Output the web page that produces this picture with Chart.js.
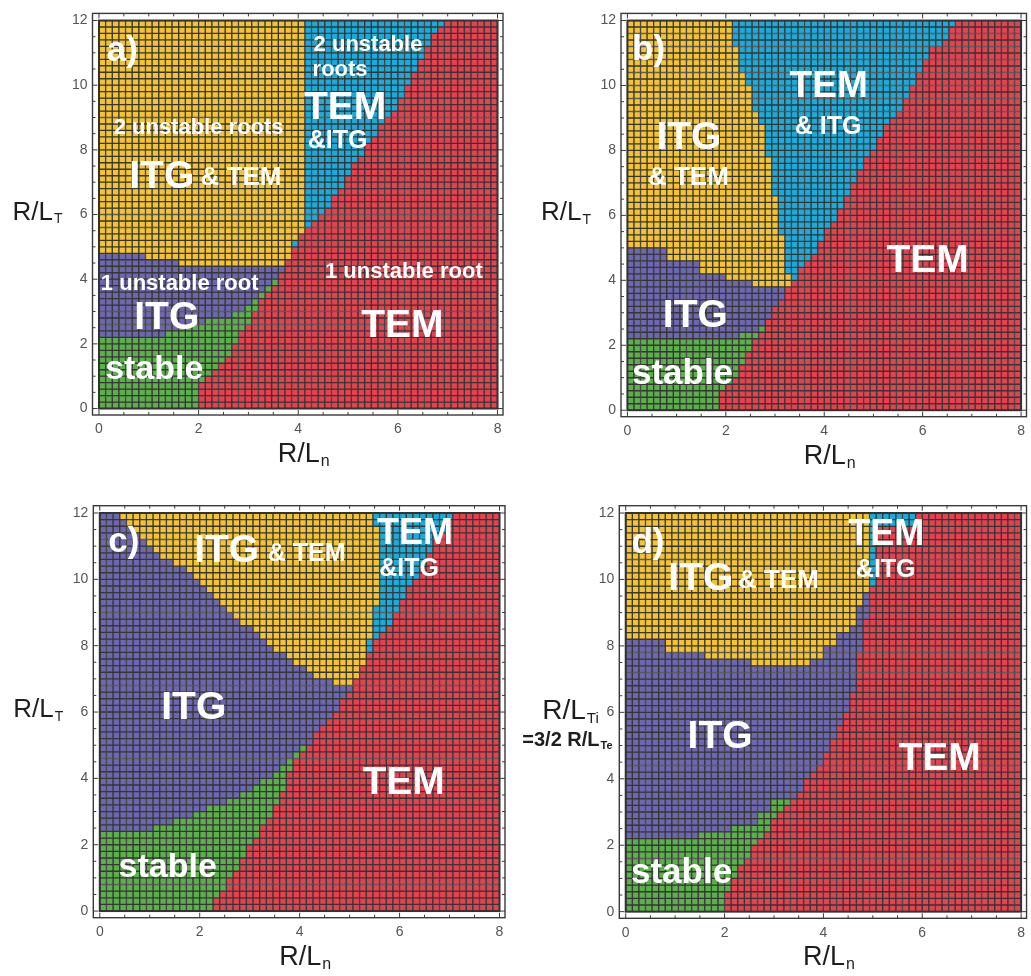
<!DOCTYPE html>
<html>
<head>
<meta charset="utf-8">
<script src="https://cdn.jsdelivr.net/npm/chart.js"></script>
<style>
  html, body { margin: 0; padding: 0; background: #fff; }
  #wrap { position: relative; width: 1031px; height: 976px; overflow: hidden; }
  canvas { position: absolute; }
</style>
</head>
<body>
<div id="wrap">
  <canvas id="pa" width="515" height="488" style="left:0;top:0"></canvas>
  <canvas id="pb" width="516" height="488" style="left:515px;top:0"></canvas>
  <canvas id="pc" width="515" height="488" style="left:0;top:488px"></canvas>
  <canvas id="pd" width="516" height="488" style="left:515px;top:488px"></canvas>
</div>
<script>
// scan grid (60 x 60 cells over R/Ln 0..8, R/LT 0..12)
const nCols = 60, nRows = 60;
const xMax = 8, yMax = 12;
const xTicks = [0, 2, 4, 6, 8];
const yTicks = [0, 2, 4, 6, 8, 10, 12];
const regions = ['stable', 'ITG', 'ITG & TEM', 'TEM & ITG', 'TEM'];
const regionColors = ['#5bb04b', '#6c67ae', '#f4c330', '#1aabda', '#e6414f'];

// region boundaries
// RedEdge / CyanEdge: [R/LT, R/Ln]  -> TEM right of red edge, TEM&ITG between cyan and red edge
// ItgTop / StableTop: [R/Ln, R/LT]  -> ITG&TEM above ItgTop, stable below StableTop
const aRedEdge = [[0, 2.01], [0.65, 2.01], [1.2, 2.39], [1.75, 2.63], [2.27, 2.83], [2.77, 3.06], [3.27, 3.23], [3.78, 3.46], [4.0, 3.6], [4.4, 3.7], [4.8, 3.9], [5.4, 4.07], [6.3, 4.64], [7.3, 5.04], [8.3, 5.44], [9.3, 5.98], [10.3, 6.31], [11.0, 6.5], [11.4, 6.65], [11.75, 6.9], [12.2, 6.95]];
const aCyanEdge = [[4.8, 3.88], [5.0, 3.88], [5.4, 4.05], [5.6, 4.1], [12.2, 4.1]];
const aItgTop = [[0, 4.8], [0.95, 4.8], [0.95, 4.6], [1.6, 4.6], [1.6, 4.4], [8, 4.4]];
const aStableTop = [[0, 2.2], [1.35, 2.2], [1.35, 2.4], [1.9, 2.6], [2.4, 2.8], [3.0, 3.0], [3.0, 3.2], [3.25, 3.6], [3.4, 3.8], [3.6, 4.0], [8, 4.0]];

const bRedEdge = [[0, 1.9], [0.6, 1.9], [0.8, 2.14], [2.0, 2.52], [2.4, 2.76], [3.0, 2.96], [3.6, 3.19], [4.0, 3.36], [4.6, 3.7], [5.1, 3.9], [6.5, 4.44], [7.8, 4.9], [8.75, 5.24], [9.05, 5.45], [9.55, 5.65], [10.05, 5.8], [10.55, 5.98], [11.06, 6.15], [11.36, 6.4], [11.77, 6.6], [12.2, 6.65]];
const bCyanEdge = [[3.9, 3.3], [4.8, 3.2], [5.7, 3.1], [7.5, 2.9], [8.5, 2.8], [9.0, 2.65], [10.0, 2.45], [10.8, 2.25], [12.2, 2.02]];
const bItgTop = [[0, 4.97], [0.85, 4.97], [0.85, 4.57], [1.48, 4.57], [1.48, 4.2], [2.0, 4.2], [2.0, 4.0], [2.55, 4.0], [2.55, 3.8], [8, 3.8]];
const bStableTop = [[0, 2.2], [1.9, 2.2], [2.5, 2.4], [2.8, 2.7], [3.2, 3.2], [8, 3.2]];

const cRedEdge = [[0, 2.28], [0.2, 2.28], [0.45, 2.41], [1.16, 2.68], [1.77, 2.95], [2.17, 3.08], [2.77, 3.35], [3.38, 3.61], [3.88, 3.75], [4.49, 3.88], [4.9, 4.15], [5.5, 4.42], [6.0, 4.69], [6.5, 4.95], [6.8, 5.09], [7.3, 5.22], [7.9, 5.42], [8.4, 5.62], [8.8, 5.89], [9.74, 6.16], [10.14, 6.36], [10.95, 6.63], [11.55, 6.89], [11.96, 7.16], [12.2, 7.2]];
const cCyanEdge = [[7.2, 5.22], [8.0, 5.35], [8.8, 5.49], [9.7, 5.57], [12.2, 5.52]];
const cItgTop = [[0, 12.5], [0.3, 12.5], [0.3, 12.0], [0.67, 11.45], [1.2, 10.75], [1.74, 10.24], [2.14, 9.74], [2.68, 8.93], [3.21, 8.22], [3.75, 7.62], [4.28, 7.11], [4.69, 6.86], [5.05, 6.8], [8, 6.8]];
const cStableTop = [[0, 2.4], [0.8, 2.4], [1.4, 2.7], [2.0, 3.0], [2.8, 3.5], [3.2, 3.9], [3.6, 4.3], [4.2, 5.1], [4.8, 5.9], [5.05, 6.6], [8, 6.6]];

const dRedEdge = [[0, 2.01], [0.55, 2.01], [1.26, 2.29], [2.06, 2.66], [2.67, 2.96], [3.27, 3.36], [3.88, 3.63], [4.78, 4.09], [5.79, 4.43], [6.6, 4.6], [7.5, 4.7], [8.7, 4.85], [9.7, 4.95], [9.8, 5.08], [11.6, 5.08], [11.6, 5.9], [12.2, 5.9]];
const dCyanEdge = [[9.8, 4.9], [12.2, 4.9]];
const dItgTop = [[0, 8.2], [0.82, 8.2], [0.82, 7.8], [1.56, 7.8], [1.56, 7.65], [2.49, 7.65], [2.49, 7.45], [3.69, 7.45], [3.69, 7.65], [4.03, 7.65], [4.03, 8.0], [4.29, 8.0], [4.29, 8.3], [4.49, 8.3], [4.49, 8.6], [4.66, 8.6], [4.66, 9.2], [4.8, 9.2], [4.8, 9.6], [8, 9.6]];
const dStableTop = [[0, 2.2], [1.49, 2.2], [1.49, 2.42], [2.09, 2.42], [2.09, 2.62], [2.69, 2.62], [2.69, 3.02], [2.96, 3.02], [2.96, 3.37], [8, 3.37]];

const FONT = "'Liberation Sans', Arial, Helvetica, sans-serif";

// text annotations: [text, R/Ln centre, R/LT baseline, font px]
const aLabels = [
  ['a)', 0.47, 10.75, 35], ['2 unstable', 5.40, 11.05, 22], ['roots', 4.84, 10.29, 22],
  ['TEM', 4.94, 8.96, 39], ['&ITG', 4.79, 8.05, 25], ['2 unstable roots', 2.0, 8.48, 22],
  ['ITG', 1.26, 6.81, 39], ['& TEM', 2.85, 6.9, 26], ['1 unstable root', 1.62, 3.67, 22],
  ['ITG', 1.36, 2.46, 39], ['stable', 1.11, 0.92, 34], ['1 unstable root', 6.12, 4.03, 22],
  ['TEM', 6.09, 2.22, 39]
];
const bLabels = [
  ['b)', 0.43, 10.77, 35], ['TEM', 4.09, 9.65, 37], ['& ITG', 4.08, 8.5, 25],
  ['ITG', 1.25, 8.05, 39], ['& TEM', 1.24, 6.93, 26], ['TEM', 6.1, 4.27, 39],
  ['ITG', 1.38, 2.55, 39], ['stable', 1.12, 0.8, 35]
];
const cLabels = [
  ['c)', 0.48, 10.82, 35], ['ITG', 2.54, 10.52, 39], ['& TEM', 4.14, 10.55, 25],
  ['TEM', 6.31, 11.07, 36], ['&ITG', 6.19, 10.1, 25], ['ITG', 1.88, 5.78, 39],
  ['TEM', 6.08, 3.52, 39], ['stable', 1.36, 1.02, 34]
];
const dLabels = [
  ['d)', 0.45, 10.8, 35], ['ITG', 1.52, 9.69, 39], ['& TEM', 3.09, 9.75, 26],
  ['TEM', 5.27, 11.05, 36], ['&ITG', 5.26, 10.08, 25], ['ITG', 1.91, 4.93, 39],
  ['TEM', 6.35, 4.27, 39], ['stable', 1.13, 0.87, 35]
];

const ltTitle = [{ main: 'R/L', sub: 'T', dx: -80, dy: 5, size: 26, subSize: 14, bold: false }];
const ltiTitle = [
  { main: 'R/L', sub: 'Ti', dx: -77, dy: 7, size: 28, subSize: 15, bold: false },
  { main: '=3/2 R/L', sub: 'Te', dx: -97, dy: 34, size: 20, subSize: 11, bold: true }
];

// piecewise-linear lookup along a boundary (duplicate keys = steps)
function edgeAt(pts, t) {
  if (t < pts[0][0]) return null;
  for (let i = 0; i < pts.length - 1; i++) {
    const t0 = pts[i][0], t1 = pts[i + 1][0];
    if (t >= t0 && t < t1) return pts[i][1] + (pts[i + 1][1] - pts[i][1]) * (t - t0) / (t1 - t0);
  }
  return pts[pts.length - 1][1];
}

function classify(p, x, y) {
  if (x > edgeAt(p.red, y)) return 4;
  const c = edgeAt(p.cyan, y);
  if (c !== null && x > c) return 3;
  if (y > edgeAt(p.itgTop, x)) return 2;
  if (y < edgeAt(p.stableTop, x)) return 0;
  return 1;
}

function buildCells(p) {
  const dx = xMax / nCols, dy = yMax / nRows;
  const sets = regions.map(() => []);
  for (let i = 0; i < nCols; i++) {
    for (let j = 0; j < nRows; j++) {
      const x = (i + 0.5) * dx, y = (j + 0.5) * dy;
      sets[classify(p, x, y)].push({ x: x, y: [j * dy, (j + 1) * dy] });
    }
  }
  return sets;
}

function drawTitle(ctx, t, x, baseline, centered) {
  const f1 = (t.bold ? 'bold ' : '') + t.size + 'px ' + FONT;
  const f2 = (t.bold ? 'bold ' : '') + t.subSize + 'px ' + FONT;
  ctx.font = f1;
  const w1 = ctx.measureText(t.main).width;
  ctx.font = f2;
  const w2 = ctx.measureText(t.sub).width;
  let left = centered ? x - (w1 + w2) / 2 : x;
  ctx.textAlign = 'left';
  ctx.font = f1;
  ctx.fillText(t.main, left, baseline);
  ctx.font = f2;
  ctx.fillText(t.sub, left + w1 + 1, baseline + t.subSize * 0.25);
}

function decor(p) {
  return {
    id: 'decor',
    afterDraw(chart) {
      const { ctx, chartArea: a } = chart;
      const x = chart.scales.x, y = chart.scales.y;
      ctx.save();
      // outline of the cell block
      const gx0 = x.getPixelForValue(0), gx1 = x.getPixelForValue(xMax);
      const gy0 = y.getPixelForValue(0), gy1 = y.getPixelForValue(yMax);
      ctx.strokeStyle = '#333';
      ctx.lineWidth = 2;
      ctx.strokeRect(gx0, gy1, gx1 - gx0, gy0 - gy1);
      // frame with inward ticks
      ctx.strokeStyle = '#3a3a3a';
      ctx.lineWidth = 1.4;
      ctx.strokeRect(a.left, a.top, a.width, a.height);
      ctx.lineWidth = 1;
      ctx.beginPath();
      for (let k = 0; k <= xMax * 2; k++) {
        const v = k / 2, px = x.getPixelForValue(v), len = k % 4 === 0 ? 5 : 3;
        ctx.moveTo(px, a.bottom); ctx.lineTo(px, a.bottom - len);
        ctx.moveTo(px, a.top); ctx.lineTo(px, a.top + len);
      }
      for (let k = 0; k <= yMax * 2; k++) {
        const v = k / 2, py = y.getPixelForValue(v), len = k % 4 === 0 ? 5 : 3;
        ctx.moveTo(a.left, py); ctx.lineTo(a.left + len, py);
        ctx.moveTo(a.right, py); ctx.lineTo(a.right - len, py);
      }
      ctx.stroke();
      // region labels
      ctx.fillStyle = '#fff';
      ctx.textAlign = 'center';
      ctx.textBaseline = 'alphabetic';
      p.labels.forEach(([t, lx, ly, size]) => {
        ctx.font = 'bold ' + size + 'px ' + FONT;
        ctx.fillText(t, x.getPixelForValue(lx), y.getPixelForValue(ly));
      });
      // axis titles
      ctx.fillStyle = '#1e1e1e';
      drawTitle(ctx, { main: 'R/L', sub: 'n', size: 27, subSize: 16, bold: false },
        x.getPixelForValue(xMax / 2) + 5, a.bottom + 47, true);
      const yMid = y.getPixelForValue(yMax / 2);
      p.yTitle.forEach(t => drawTitle(ctx, t, a.left + t.dx, yMid + t.dy, false));
      ctx.restore();
    }
  };
}

function makePanel(id, p, box) {
  const sets = buildCells(p);
  return new Chart(document.getElementById(id), {
    type: 'bar',
    data: {
      datasets: sets.map((d, k) => ({
        label: regions[k],
        data: d,
        backgroundColor: regionColors[k],
        borderColor: '#363636',
        borderWidth: 1,
        borderSkipped: false,
        grouped: false,
        categoryPercentage: 1,
        barPercentage: 1
      }))
    },
    options: {
      responsive: false,
      animation: false,
      events: [],
      layout: { padding: { top: box.top, right: box.right, left: 0, bottom: 0 } },
      plugins: { legend: { display: false }, tooltip: { enabled: false } },
      scales: {
        x: {
          type: 'linear', min: -0.13, max: 8.11, offset: false,
          grid: { display: false, drawTicks: false }, border: { display: false },
          afterBuildTicks: s => { s.ticks = xTicks.map(v => ({ value: v })); },
          afterFit: s => { s.height = box.bottom; },
          ticks: { padding: 6, color: '#555', font: { family: FONT, size: 14 }, maxRotation: 0, autoSkip: false, callback: v => String(v) }
        },
        y: {
          type: 'linear', min: -0.2, max: 12.22,
          grid: { display: false, drawTicks: false }, border: { display: false },
          afterBuildTicks: s => { s.ticks = yTicks.map(v => ({ value: v })); },
          afterFit: s => { s.width = box.left; },
          ticks: { padding: 5, color: '#555', font: { family: FONT, size: 14 }, autoSkip: false, callback: v => String(v) }
        }
      }
    },
    plugins: [decor(p)]
  });
}

makePanel('pa', { red: aRedEdge, cyan: aCyanEdge, itgTop: aItgTop, stableTop: aStableTop, labels: aLabels, yTitle: ltTitle },
  { top: 5, right: 12, left: 92.5, bottom: 73 });
makePanel('pb', { red: bRedEdge, cyan: bCyanEdge, itgTop: bItgTop, stableTop: bStableTop, labels: bLabels, yTitle: ltTitle },
  { top: 5.7, right: 3, left: 106, bottom: 71.3 });
makePanel('pc', { red: cRedEdge, cyan: cCyanEdge, itgTop: cItgTop, stableTop: cStableTop, labels: cLabels, yTitle: ltTitle },
  { top: 17.7, right: 10, left: 93.3, bottom: 58.3 });
makePanel('pd', { red: dRedEdge, cyan: dCyanEdge, itgTop: dItgTop, stableTop: dStableTop, labels: dLabels, yTitle: ltiTitle },
  { top: 17.7, right: 1, left: 104.3, bottom: 57.7 });
</script>
</body>
</html>
